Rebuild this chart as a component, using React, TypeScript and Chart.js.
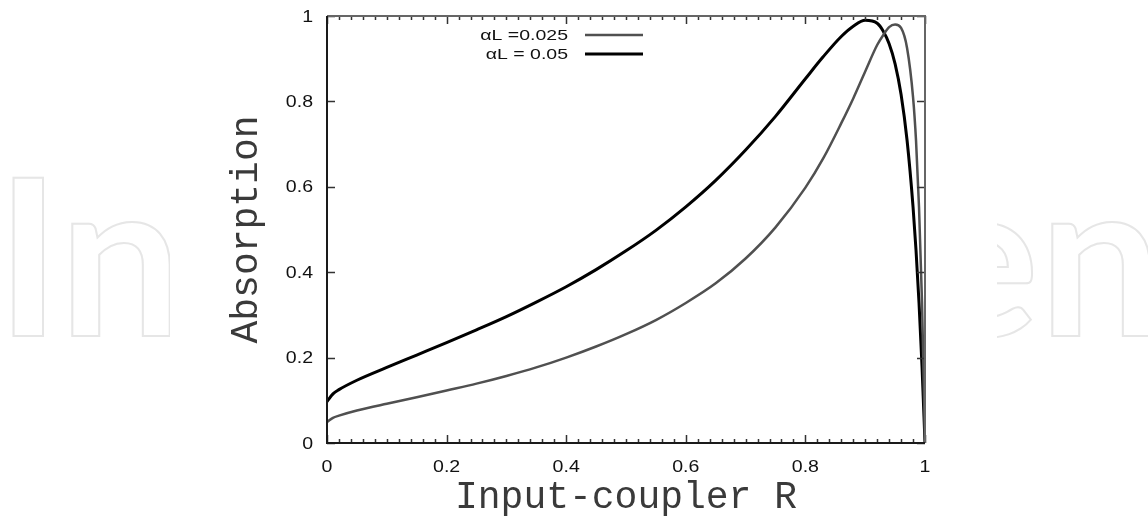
import React, { useEffect, useRef } from "react";
import { Chart, registerables } from "chart.js";

Chart.register(...registerables);

// ---- data ----
const couplerR = [0, 0.01, 0.02, 0.05, 0.1, 0.15, 0.2, 0.25, 0.3, 0.35, 0.4, 0.45, 0.5, 0.55, 0.6, 0.65, 0.7, 0.75, 0.8, 0.83, 0.86, 0.88, 0.9, 0.92, 0.93, 0.94, 0.95, 0.96, 0.97, 0.98, 0.985, 0.99, 0.995, 1];
const absorptionAlphaL0025 = [0.049, 0.059, 0.064, 0.076, 0.092, 0.107, 0.123, 0.139, 0.157, 0.177, 0.2, 0.226, 0.255, 0.288, 0.328, 0.374, 0.432, 0.505, 0.598, 0.667, 0.749, 0.807, 0.87, 0.932, 0.955, 0.974, 0.98, 0.972, 0.925, 0.81, 0.708, 0.552, 0.33, 0];
const absorptionAlphaL005 = [0.097, 0.115, 0.125, 0.147, 0.177, 0.206, 0.235, 0.265, 0.296, 0.33, 0.366, 0.406, 0.45, 0.498, 0.553, 0.615, 0.686, 0.765, 0.853, 0.905, 0.952, 0.976, 0.99, 0.983, 0.965, 0.935, 0.888, 0.816, 0.709, 0.553, 0.451, 0.328, 0.18, 0];
const seriesLabels = ["\u03b1L =0.025", "\u03b1L = 0.05"];
const xTickValues = [0, 0.2, 0.4, 0.6, 0.8, 1];
const yTickValues = [0, 0.2, 0.4, 0.6, 0.8, 1];
const xMinorStep = 0.02;
const xTitle = "Input-coupler R";
const yTitle = "Absorption";
const watermarkLeft = "In";
const watermarkRight = "en";

const seriesColors = ["#505050", "#000000"];
const seriesWidths = [2.5, 3];

const fmt = (v: number) => String(Math.round(v * 10) / 10);
const SANS = "'Liberation Sans', Arial, sans-serif";

function stretchedText(
  ctx: CanvasRenderingContext2D,
  text: string,
  x: number,
  y: number,
  sx: number,
  align: CanvasTextAlign,
) {
  ctx.save();
  ctx.translate(x, y);
  ctx.scale(sx, 1);
  ctx.textAlign = align;
  ctx.fillText(text, 0, 0);
  ctx.restore();
}

const decorPlugin = {
  id: "decor",
  beforeDraw(chart: any) {
    const ctx = chart.ctx as CanvasRenderingContext2D;
    ctx.save();
    ctx.fillStyle = "#ffffff";
    ctx.fillRect(0, 0, chart.width, chart.height);
    ctx.font = "bold 218px Lato";
    ctx.strokeStyle = "#e6e6e6";
    ctx.lineWidth = 2;
    ctx.textBaseline = "alphabetic";
    ctx.textAlign = "left";
    const mL = ctx.measureText(watermarkLeft);
    ctx.strokeText(watermarkLeft, 13 + mL.actualBoundingBoxLeft, 336);
    const mR = ctx.measureText(watermarkRight);
    ctx.strokeText(watermarkRight, 1150 - mR.actualBoundingBoxRight, 336);
    ctx.fillStyle = "#ffffff";
    ctx.fillRect(170, 0, 827, chart.height);
    ctx.restore();
  },
  afterDraw(chart: any) {
    const ctx = chart.ctx as CanvasRenderingContext2D;
    const { left, right, top, bottom } = chart.chartArea;
    const xs = chart.scales.x;
    const ys = chart.scales.y;
    ctx.save();
    // ticks
    ctx.strokeStyle = "#333";
    ctx.lineWidth = 1.5;
    ctx.beginPath();
    const nMinor = Math.round(1 / xMinorStep);
    for (let i = 0; i <= nMinor; i++) {
      const v = i * xMinorStep;
      const px = Math.round(xs.getPixelForValue(v)) + 0.5;
      const isMajor = xTickValues.some((t) => Math.abs(t - v) < 1e-6);
      const len = isMajor ? 8 : 4;
      ctx.moveTo(px, bottom);
      ctx.lineTo(px, bottom - len);
      ctx.moveTo(px, top);
      ctx.lineTo(px, top + len);
    }
    for (const v of yTickValues) {
      const py = Math.round(ys.getPixelForValue(v)) + 0.5;
      ctx.moveTo(left, py);
      ctx.lineTo(left + 8, py);
      ctx.moveTo(right, py);
      ctx.lineTo(right - 8, py);
    }
    ctx.stroke();
    // frame
    ctx.lineWidth = 2;
    ctx.strokeStyle = "#666";
    ctx.beginPath();
    ctx.moveTo(left, top);
    ctx.lineTo(right, top);
    ctx.lineTo(right, bottom);
    ctx.stroke();
    ctx.strokeStyle = "#1a1a1a";
    ctx.beginPath();
    ctx.moveTo(left, top);
    ctx.lineTo(left, bottom);
    ctx.lineTo(right, bottom);
    ctx.stroke();

    // tick labels
    ctx.fillStyle = "#111";
    ctx.font = `17px ${SANS}`;
    ctx.textBaseline = "alphabetic";
    for (const v of xTickValues) {
      stretchedText(ctx, fmt(v), xs.getPixelForValue(v), 472, 1.15, "center");
    }
    ctx.textBaseline = "middle";
    for (const v of yTickValues) {
      stretchedText(ctx, fmt(v), left - 14, ys.getPixelForValue(v) + 1, 1.15, "right");
    }

    // legend
    ctx.font = `15px ${SANS}`;
    ctx.textBaseline = "middle";
    ctx.fillStyle = "#111";
    const rowsY = [35, 54];
    chart.data.datasets.forEach((ds: any, i: number) => {
      stretchedText(ctx, ds.label, 568, rowsY[i] + 1, 1.3, "right");
      ctx.strokeStyle = ds.borderColor;
      ctx.lineWidth = ds.borderWidth;
      ctx.beginPath();
      ctx.moveTo(585, rowsY[i]);
      ctx.lineTo(643, rowsY[i]);
      ctx.stroke();
    });

    // axis titles
    ctx.fillStyle = "#3a3a3a";
    ctx.font = "38px 'Liberation Mono', 'Courier New', monospace";
    ctx.textAlign = "center";
    ctx.textBaseline = "alphabetic";
    ctx.fillText(xTitle, (left + right) / 2, 508);
    ctx.translate(257, (top + bottom) / 2);
    ctx.rotate(-Math.PI / 2);
    ctx.fillText(yTitle, 0, 0);
    ctx.restore();
  },
};

export default function App() {
  const canvasRef = useRef<HTMLCanvasElement | null>(null);

  useEffect(() => {
    if (!canvasRef.current) return;
    const mk = (vals: number[]) => couplerR.map((r, i) => ({ x: r, y: vals[i] }));
    const chart = new Chart(canvasRef.current, {
      type: "line",
      data: {
        datasets: [
          {
            label: seriesLabels[0],
            data: mk(absorptionAlphaL0025),
            borderColor: seriesColors[0],
            borderWidth: seriesWidths[0],
            pointRadius: 0,
            cubicInterpolationMode: "monotone",
            fill: false,
          },
          {
            label: seriesLabels[1],
            data: mk(absorptionAlphaL005),
            borderColor: seriesColors[1],
            borderWidth: seriesWidths[1],
            pointRadius: 0,
            cubicInterpolationMode: "monotone",
            fill: false,
          },
        ],
      },
      options: {
        animation: false,
        responsive: false,
        maintainAspectRatio: false,
        layout: { padding: { top: 16, right: 223, left: 0, bottom: 0 } },
        plugins: { legend: { display: false }, tooltip: { enabled: false } },
        scales: {
          x: {
            type: "linear",
            min: 0,
            max: 1,
            grid: { display: false, drawTicks: false },
            border: { display: false },
            ticks: { display: false },
            afterFit: (s: any) => {
              s.height = 73;
            },
          },
          y: {
            type: "linear",
            min: 0,
            max: 1,
            grid: { display: false, drawTicks: false },
            border: { display: false },
            ticks: { display: false },
            afterFit: (s: any) => {
              s.width = 327;
            },
          },
        },
      },
      plugins: [decorPlugin],
    });
    return () => chart.destroy();
  }, []);

  return (
    <div style={{ position: "fixed", left: 0, top: 0, width: 1148, height: 516, background: "#fff" }}>
      <canvas ref={canvasRef} width={1148} height={516} style={{ width: 1148, height: 516 }} />
    </div>
  );
}
